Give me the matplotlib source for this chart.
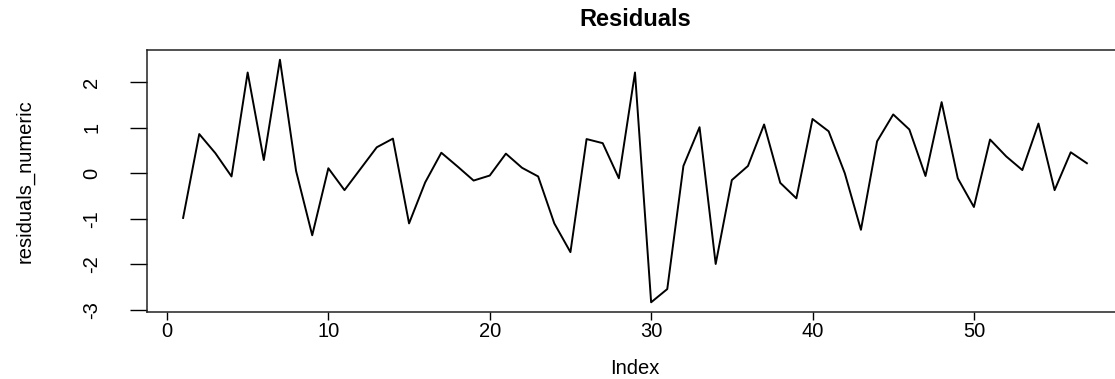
import matplotlib.pyplot as plt
import numpy as np

plt.rcParams['font.family'] = ['Liberation Sans', 'DejaVu Sans']
plt.rcParams['axes.unicode_minus'] = False

# residuals (index 1..57)
residuals_numeric = [
    -0.98, 0.86, 0.44, -0.07, 2.21, 0.29, 2.49, 0.05, -1.36, 0.11,
    -0.37, 0.10, 0.57, 0.76, -1.10, -0.20, 0.45, 0.15, -0.16, -0.05,
    0.43, 0.12, -0.07, -1.10, -1.73, 0.75, 0.66, -0.11, 2.21, -2.83,
    -2.54, 0.16, 1.01, -1.99, -0.15, 0.16, 1.07, -0.21, -0.55, 1.19,
    0.92, 0.00, -1.24, 0.70, 1.29, 0.96, -0.06, 1.56, -0.11, -0.74,
    0.74, 0.37, 0.07, 1.09, -0.37, 0.46, 0.22,
]
index = np.arange(1, len(residuals_numeric) + 1)
x_ticks = [0, 10, 20, 30, 40, 50]
y_ticks = [-3, -2, -1, 0, 1, 2]

fig = plt.figure(figsize=(11.15, 3.79), dpi=100)
# plot region runs a little past the right edge of the picture, like the reference
ax = fig.add_axes([0.1318, 0.1768, 0.8754, 0.6912])

ax.plot(index, residuals_numeric, color='black', linewidth=1.4)

# R style limits: data range padded by 4% each side
xr = index.max() - index.min()
ax.set_xlim(index.min() - 0.04 * xr, index.max() + 0.04 * xr)
yr = max(residuals_numeric) - min(residuals_numeric)
ax.set_ylim(min(residuals_numeric) - 0.04 * yr, max(residuals_numeric) + 0.04 * yr)

ax.set_xticks(x_ticks)
ax.set_yticks(y_ticks)
ax.tick_params(axis='x', length=5.5, width=1, pad=2, labelsize=14.5)
ax.tick_params(axis='y', length=12, width=1, pad=21, labelsize=14.5, labelrotation=90)
for lab in ax.get_yticklabels():
    lab.set_va('center')

for s in ax.spines.values():
    s.set_linewidth(1.1)
    s.set_color('#222222')

ax.set_xlabel('Index', fontsize=14.5, labelpad=13)
ax.set_ylabel('residuals_numeric', fontsize=14.5, labelpad=34)
ax.set_title('Residuals', fontsize=17, fontweight='bold', pad=17)

fig.savefig('out.png', dpi=100)
